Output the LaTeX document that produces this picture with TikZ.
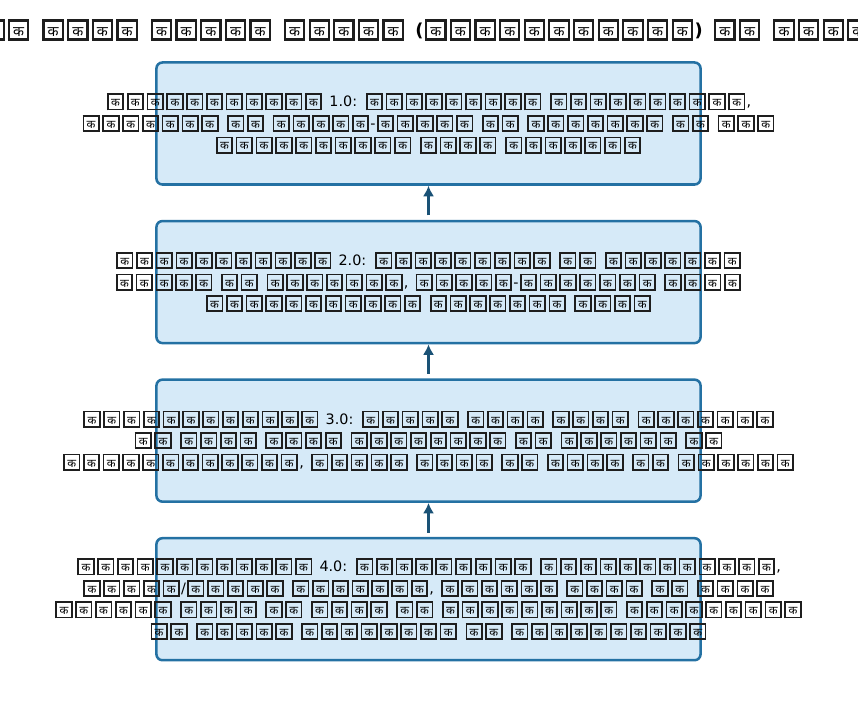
\documentclass[tikz,border=0pt]{standalone}
\usepackage{fontspec}
\usepackage{xcolor}
\usepackage{graphicx}
\usepackage{tikz}
\usetikzlibrary{arrows.meta, positioning}
\setmainfont{DejaVu Sans}
\newfontfamily\devfont[Script=Devanagari]{Noto Sans}
\definecolor{StageFill}{HTML}{D6EAF8}
\definecolor{StageEdge}{HTML}{2471A3}
\definecolor{ArrowBlue}{HTML}{1A5276}
\definecolor{TofuEdge}{HTML}{1E1E1E}

\newcommand\stagefont{\fontsize{10.2}{15.3}\selectfont\spaceskip 0.42em\relax}
\newcommand\ttlfont{\fontsize{12.7}{15.2}\selectfont\bfseries\spaceskip 0.55em\relax}

% each missing Devanagari glyph is shown as a framed box
\newcommand\tofu{{\kern0.09em\relax
  \rlap{\textcolor{TofuEdge}{\vrule width 1.2em height 0.94em depth -0.82em\relax}}%
  \rlap{\textcolor{TofuEdge}{\vrule width 1.2em height -0.125em depth 0.245em\relax}}%
  \hbox to 1.2em{\textcolor{TofuEdge}{\vrule width 0.12em height 0.94em depth 0.245em\relax}%
    \hss\devfont\scalebox{0.8}{\char"0915\relax}\hss
    \textcolor{TofuEdge}{\vrule width 0.12em height 0.94em depth 0.245em\relax}}%
  \kern0.09em\relax}}
\catcode"0915=\active
\def क{\tofu}

\begin{document}
\begin{tikzpicture}[x=0.025cm, y=-0.025cm,
  stage/.style={rectangle, rounded corners=0.15cm, draw=StageEdge, fill=StageFill,
                line width=1.8pt, minimum width=13.6cm, minimum height=3.05cm, inner sep=0pt},
  stagetext/.style={align=center, inner sep=0pt, font=\stagefont},
  ttl/.style={inner sep=0pt, font=\ttlfont},
  arr/.style={-{Latex[length=7.5pt, width=8pt]}, line width=2.3pt, ArrowBlue, shorten <=0.11cm},
]
\useasboundingbox (0,0) rectangle (858,702);

\node[ttl] (title) at (426,30) {कक कककक ककककक ककककक (ककककककककककक) कक कककक};

\node[stage] (s1) at (428.5,123.5) {};
\node[stage, below=0.85cm of s1] (s2) {};
\node[stage, below=0.85cm of s2] (s3) {};
\node[stage, below=0.85cm of s3] (s4) {};

\node[stagetext] (t1) at (s1) {ककककककककककक 1.0: ककककककककक कककककककककक,\\
  ककककककक कक ककककक-ककककक कक ककककककक कक ककक\\
  कककककककककक कककक ककककककक};
\node[stagetext] (t2) at (s2) {ककककककककककक 2.0: ककककककककक कक ककककककक\\
  ककककक कक ककककककक, ककककक-ककककककक कककक\\
  ककककककककककक ककककककक कककक};
\node[stagetext] (t3) at (s3) {कककककककककककक 3.0: ककककक कककक कककक ककककककक\\
  कक कककक कककक कककककककक कक कककककक कक\\
  कककककककककककक, ककककक कककक कक कककक कक कककककक};
\node[stagetext] (t4) at (s4) {कककककककककककक 4.0: ककककककककक कककककककककककक,\\
  ककककक/ककककक ककककककक, कककककक कककक कक कककक\\
  कककककक कककक कक कककक कक ककककककककक ककककककककक\\
  कक ककककक कककककककक कक कककककककककक};

\draw[arr] (s2) -- (s1);
\draw[arr] (s3) -- (s2);
\draw[arr] (s4) -- (s3);

\end{tikzpicture}
\end{document}
